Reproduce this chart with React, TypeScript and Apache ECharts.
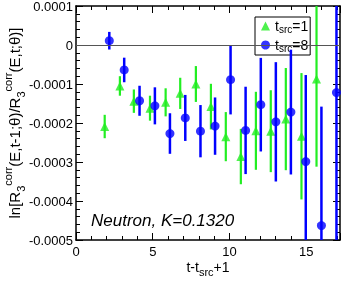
import React, { useEffect, useRef } from 'react';
import * as echarts from 'echarts';

// t_src = 1 (green triangles): x position, value, error
const greenX = [1.87, 2.86, 3.77, 4.82, 5.84, 6.79, 7.81, 8.79, 9.76, 10.74, 11.72, 12.69, 13.67, 14.69, 15.67];
const greenY = [-2.09e-4, -1.05e-4, -1.44e-4, -1.62e-4, -1.47e-4, -1.24e-4, -1.0e-4, -1.58e-4, -2.35e-4, -2.86e-4, -2.2e-4, -2.21e-4, -1.9e-4, -2.34e-4, -0.87e-4];
const greenErr = [0.3e-4, 0.25e-4, 0.3e-4, 0.32e-4, 0.36e-4, 0.4e-4, 0.46e-4, 0.585e-4, 0.63e-4, 0.71e-4, 1.0e-4, 1.05e-4, 1.31e-4, 1.62e-4, 2.25e-4];

// t_src = 8 (blue circles)
const blueX = [2.17, 3.14, 4.14, 5.14, 6.12, 7.12, 8.11, 9.06, 10.07, 11.05, 12.04, 13.02, 14.0, 14.97, 15.99, 16.97];
const blueY = [0.11e-4, -0.64e-4, -1.43e-4, -1.56e-4, -2.27e-4, -1.87e-4, -2.21e-4, -2.08e-4, -0.89e-4, -2.19e-4, -1.53e-4, -1.97e-4, -1.72e-4, -2.99e-4, -4.63e-4, -1.22e-4];
const blueErr = [0.226e-4, 0.315e-4, 0.385e-4, 0.475e-4, 0.52e-4, 0.59e-4, 0.67e-4, 0.735e-4, 0.89e-4, 1.12e-4, 1.2e-4, 1.53e-4, 1.6e-4, 2.22e-4, 3.05e-4, 5.0e-4];

const xTicks = [0, 5, 10, 15];
const yTicks = [0.0001, 0, -0.0001, -0.0002, -0.0003, -0.0004, -0.0005];

const GREEN = '#22ee22';
const BLUE = '#0000ff';
const FONT = '"Liberation Sans", Arial, Helvetica, sans-serif';

function errRenderer(color: string, width: number) {
  return (params: any, api: any) => {
    const x = api.value(0);
    const y = api.value(1);
    const e = api.value(2);
    const top = api.coord([x, y + e]);
    const bot = api.coord([x, y - e]);
    const cs = params.coordSys;
    const clamp = (v: number) => Math.max(cs.y, Math.min(cs.y + cs.height, v));
    return {
      type: 'line',
      shape: { x1: top[0], y1: clamp(top[1]), x2: bot[0], y2: clamp(bot[1]) },
      style: { stroke: color, lineWidth: width },
    };
  };
}

export default function App() {
  const ref = useRef<HTMLDivElement>(null);
  useEffect(() => {
    document.body.style.margin = '0';
    if (!ref.current) return;
    const chart = echarts.init(ref.current, null, { renderer: 'svg' });
    const axisLine = { show: true, onZero: false, lineStyle: { color: '#000', width: 1.5 } };
    const axisTick = { show: true, inside: true, length: 7, lineStyle: { color: '#000', width: 1 } };
    const minorTick = { show: true, splitNumber: 5, length: 4, lineStyle: { color: '#000', width: 1 } };
    const xBase = { type: 'value', min: 0, max: 17.2, interval: 5, axisLine, axisTick, minorTick, splitLine: { show: false } };
    const yBase = { type: 'value', min: yTicks[yTicks.length - 1], max: yTicks[0], interval: 0.0001, axisLine, axisTick, minorTick, splitLine: { show: false } };
    const greenData = greenX.map((x, i) => [x, greenY[i], greenErr[i]]);
    const blueData = blueX.map((x, i) => [x, blueY[i], blueErr[i]]);
    chart.setOption({
      animation: false,
      grid: { left: 76, right: 3, top: 6, bottom: 41, containLabel: false, outerBoundsMode: 'none' },
      xAxis: [
        {
          ...xBase,
          position: 'bottom',
          axisLabel: {
            margin: 5, fontSize: 13, lineHeight: 13, color: '#000', fontFamily: FONT, showMaxLabel: false,
            formatter: (v: number) => (xTicks.some((t) => Math.abs(t - v) < 1e-9) ? String(Math.round(v)) : ''),
          },
          name: '{m|t-t}{b|src}{m|+1}',
          nameLocation: 'middle',
          nameGap: 17,
          nameMoveOverlap: false,
          nameTextStyle: {
            color: '#000', fontFamily: FONT, fontSize: 14,
            rich: {
              m: { fontSize: 14, lineHeight: 20, fontFamily: FONT, color: '#000' },
              b: { fontSize: 11, lineHeight: 4, verticalAlign: 'bottom', fontFamily: FONT, color: '#000' },
            },
          },
        },
        { ...xBase, position: 'top', axisLabel: { show: false } },
      ],
      yAxis: [
        {
          ...yBase,
          position: 'left',
          axisLabel: {
            margin: 3, fontSize: 13, color: '#000', fontFamily: FONT,
            formatter: (v: number) => (Math.abs(v) < 1e-12 ? '0' : v.toFixed(4)),
          },
          name: '{m|ln[R}{b|3}{p|corr}{m|(E,t-1;θ)/R}{b|3}{p|corr}{m|(E,t;θ)]}',
          nameLocation: 'middle',
          nameRotate: 90,
          nameGap: 50,
          nameMoveOverlap: false,
          nameTextStyle: {
            color: '#000', fontFamily: FONT, fontSize: 15,
            rich: {
              m: { fontSize: 15, lineHeight: 24, fontFamily: FONT, color: '#000' },
              b: { fontSize: 11, lineHeight: 6, verticalAlign: 'bottom', fontFamily: FONT, color: '#000' },
              p: { fontSize: 11, lineHeight: 6, verticalAlign: 'top', fontFamily: FONT, color: '#000' },
            },
          },
        },
        { ...yBase, position: 'right', axisLabel: { show: false } },
      ],
      legend: {
        orient: 'vertical',
        left: 255,
        top: 17,
        padding: [2, 2, 2, 6],
        itemGap: 4,
        itemWidth: 9,
        itemHeight: 9,
        borderColor: '#000',
        borderWidth: 1,
        backgroundColor: '#fff',
        data: [
          { name: 't_src=1', icon: 'triangle' },
          { name: 't_src=8', icon: 'circle' },
        ],
        formatter: (name: string) => `{m|t}{s|src}{m|=${name.split('=')[1]}}`,
        textStyle: {
          color: '#000', fontFamily: FONT, fontSize: 14, width: 35, overflow: 'none',
          rich: {
            m: { fontSize: 14, lineHeight: 16, fontFamily: FONT, color: '#000' },
            s: { fontSize: 10, lineHeight: 6, verticalAlign: 'bottom', fontFamily: FONT, color: '#000' },
          },
        },
      },
      graphic: [
        {
          type: 'text',
          left: 91,
          top: 212,
          style: { text: 'Neutron, K=0.1320', font: `italic 17px ${FONT}`, fill: '#000' },
        },
      ],
      series: [
        {
          name: 'err1',
          type: 'custom',
          renderItem: errRenderer(GREEN, 2.2),
          data: greenData,
          encode: { x: 0, y: 1 },
          z: 2,
          markLine: {
            silent: true,
            symbol: ['none', 'none'],
            label: { show: false },
            lineStyle: { color: '#555', width: 1, type: 'solid' },
            data: [{ yAxis: 0 }],
          },
        },
        {
          name: 't_src=1',
          type: 'scatter',
          symbol: 'triangle',
          symbolSize: 9,
          itemStyle: { color: GREEN },
          data: greenData.map((d) => [d[0], d[1]]),
          z: 3,
        },
        {
          name: 'err8',
          type: 'custom',
          renderItem: errRenderer(BLUE, 2.5),
          data: blueData,
          encode: { x: 0, y: 1 },
          z: 4,
        },
        {
          name: 't_src=8',
          type: 'scatter',
          symbol: 'circle',
          symbolSize: 9,
          itemStyle: { color: BLUE },
          data: blueData.map((d) => [d[0], d[1]]),
          z: 5,
        },
      ],
    });
    return () => chart.dispose();
  }, []);
  return <div ref={ref} style={{ position: 'fixed', left: 0, top: 0, width: 343, height: 281 }} />;
}
